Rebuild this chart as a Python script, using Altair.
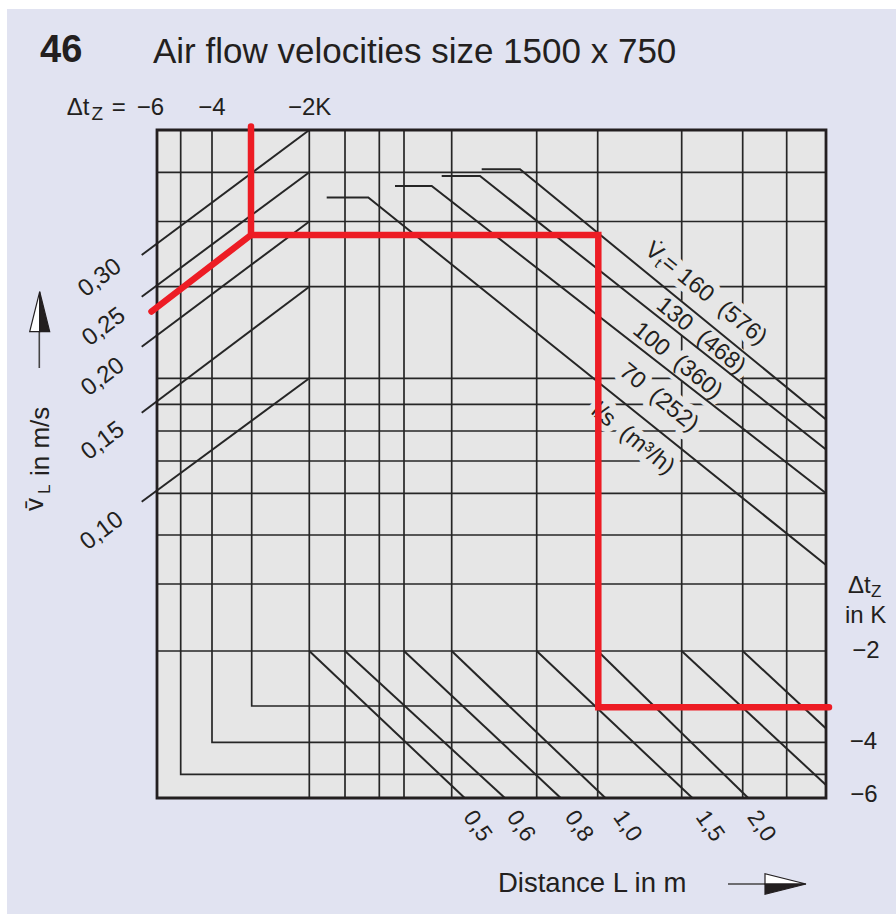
import altair as alt
import pandas as pd

# Nomogram field in chart units (1 unit = 1 px of the plotting field)
W, H = 669, 668

INK = "#231f20"
GRID = "#262626"
PAPER = "#e1e3f1"
FIELD = "#e6e6e6"
RED = "#ed1c24"
FONT = "Liberation Sans"

# ---------------------------------------------------------------- data
# Distance L grid (vertical lines over the full height)
dist_m = [0.5, 0.6, 0.7, 0.8, 1.0, 1.5, 2.0, 3.0, 4.0, 5.0]
dist_x = [152.3, 188.0, 222.3, 247.0, 294.7, 379.7, 440.7, 524.7, 585.7, 629.7]

# Velocity grid (horizontal lines over the full width)
vel_grid_y = [42.3, 91.5, 156.7, 248.3, 274.3, 301.0, 331.0, 363.3, 405.0, 454.0, 521.0]

# Δt_Z guides for -5, -4, -3 K: vertical leg from the top, horizontal leg to the right edge
dtz_k = [-5, -4, -3]
dtz_x = [23.7, 55.0, 94.7]
dtz_y = [644.3, 612.3, 576.0]

# Mean room air velocity lines (Δt_Z = -6 K side up to the -2 K line)
vel_labels = ["0,30", "0,25", "0,20", "0,15", "0,10"]
vel_start_x = -15.3
vel_start_y = [125.0, 166.7, 216.7, 282.7, 371.7]
vel_end_x = 152.3
vel_end_y = [0.0, 42.3, 91.5, 156.7, 248.3]
vel_label_x = [-57, -53, -54, -54, -55]
vel_label_y = [148, 197, 247, 311, 401]

# Supply air flow lines V̇t in l/s and (m³/h)
flow_ls = [70, 100, 130, 160]
flow_m3h = [252, 360, 468, 576]
flow_flat_x0 = [169.7, 238.0, 284.7, 324.7]
flow_flat_x1 = [211.3, 274.7, 323.0, 363.0]
flow_flat_y = [67.5, 56.0, 46.0, 39.3]
flow_end_y = [435.0, 363.3, 319.5, 289.4]
flow_label_x = [465.3, 479.0, 502.3, 503.0]
flow_label_y = [238.0, 197.0, 172.0, 126.6]
unit_label_xy = (437.3, 277.5)

# Distance lines in the lower part (start on the -2 K line)
dline_labels = ["0,5", "0,6", "0,8", "1,0", "1,5", "2,0", "", ""]
dline_x0 = [152.3, 188.0, 247.0, 294.7, 379.7, 440.7, 524.7, 585.7]
dline_y0 = 521.0
dline_x1 = [307.7, 347.9, 403.7, 448.4, 535.4, 591.2, 669.0, 669.0]
dline_y1 = [668.0, 668.0, 668.0, 668.0, 668.0, 668.0, 655.0, 598.5]
dline_label_x = [320.5, 363.8, 422.0, 470.5, 553.0, 604.5]
dline_label_y = 696.0

# Worked example (red route)
route_up = [(-5.5, 181.5), (94.0, 105.0), (94.0, -3.5)]
route_right = [(94.0, 105.0), (441.3, 105.0), (441.3, 577.3), (672.0, 577.3)]

# ---------------------------------------------------------------- helpers
X = alt.X("x:Q", scale=alt.Scale(domain=[0, W], nice=False, zero=False), axis=None)
Y = alt.Y("y:Q", scale=alt.Scale(domain=[0, H], nice=False, zero=False, reverse=True), axis=None)


def paths_df(paths, prefix):
    rows = []
    for i, pts in enumerate(paths):
        for k, (x, y) in enumerate(pts):
            rows.append({"seg": f"{prefix}{i}", "k": k, "x": x, "y": y})
    return pd.DataFrame(rows)


def line_layer(paths, prefix, width, color, cap="butt"):
    return alt.Chart(paths_df(paths, prefix)).mark_line(
        strokeWidth=width, color=color, strokeCap=cap, strokeJoin="miter"
    ).encode(x=X, y=Y, detail="seg:N", order=alt.Order("k:Q"))


def text_layer(xs, ys, labels, size, align="left", baseline="alphabetic", angle=0,
               weight="normal", dx=0, dy=0, halo=False):
    df = pd.DataFrame({"x": xs, "y": ys, "t": labels})
    props = dict(font=FONT, fontSize=size, align=align, baseline=baseline,
                 angle=angle, fontWeight=weight, dx=dx, dy=dy)
    if halo:
        props.update(fill=FIELD, stroke=FIELD, strokeWidth=13, strokeJoin="round")
    else:
        props.update(fill=INK)
    return alt.Chart(df).mark_text(**props).encode(x=X, y=Y, text="t:N")


def rect_layer(x0, x1, y0, y1, **props):
    df = pd.DataFrame({"x": [x0], "x2": [x1], "y": [y0], "y2": [y1]})
    return alt.Chart(df).mark_rect(**props).encode(x=X, x2=alt.X2("x2"), y=Y, y2=alt.Y2("y2"))


# ---------------------------------------------------------------- layers
paper = rect_layer(-150, 739, -121, 784, fill=PAPER)
field = rect_layer(0, W, 0, H, fill=FIELD)

grid_paths = [[(x, 0), (x, H)] for x in dist_x]
grid_paths += [[(0, y), (W, y)] for y in vel_grid_y]
grid_paths += [[(x, 0), (x, y), (W, y)] for x, y in zip(dtz_x, dtz_y)]
grid = line_layer(grid_paths, "g", 1.7, GRID)

vel_paths = [[(vel_start_x, a), (vel_end_x, b)] for a, b in zip(vel_start_y, vel_end_y)]
flow_paths = [[(a, y), (b, y), (W, e)]
              for a, b, y, e in zip(flow_flat_x0, flow_flat_x1, flow_flat_y, flow_end_y)]
dline_paths = [[(a, dline_y0), (b, c)] for a, b, c in zip(dline_x0, dline_x1, dline_y1)]
diagonals = alt.layer(
    line_layer(vel_paths, "v", 2.0, GRID),
    line_layer(flow_paths, "f", 2.0, GRID),
    line_layer(dline_paths, "d", 2.0, GRID),
)

frame = rect_layer(0, W, 0, H, fillOpacity=0, stroke=INK, strokeWidth=2.8)

# flow labels along the descending lines
flow_text = [f"{a}\u00a0\u00a0({b})" for a, b in zip(flow_ls, flow_m3h)]
FA = 39


def flow_labels(halo):
    return alt.layer(
        text_layer(flow_label_x[:3], flow_label_y[:3], flow_text[:3], 23.5,
                   baseline="middle", angle=FA, halo=halo),
        text_layer([flow_label_x[3]], [flow_label_y[3]], ["V\u0307"], 23.5,
                   align="right", baseline="middle", angle=FA, halo=halo),
        text_layer([flow_label_x[3]], [flow_label_y[3]], ["t"], 15,
                   baseline="middle", angle=FA, dx=0.5, dy=6, halo=halo),
        text_layer([flow_label_x[3]], [flow_label_y[3]],
                   [f"=\u00a0{flow_ls[3]}\u00a0\u00a0({flow_m3h[3]})"], 23.5,
                   baseline="middle", angle=FA, dx=6, halo=halo),
        text_layer([unit_label_xy[0]], [unit_label_xy[1]], ["l/s\u00a0\u00a0(m³/h)"], 23.5,
                   baseline="middle", angle=FA, halo=halo),
    )


texts = alt.layer(
    # heading
    text_layer([-117], [-68], ["46"], 38, weight="bold"),
    text_layer([-4], [-67.5], ["Air flow velocities size 1500 x 750"], 35),
    # Δt_Z scale along the top
    text_layer([-90.3], [-15], ["Δt"], 24),
    text_layer([-65.5], [-10.5], ["Z"], 19),
    text_layer([-45.3], [-15], ["="], 24),
    text_layer([-20.3], [-15], ["\u22126"], 24),
    text_layer([55], [-15], ["\u22124"], 24, align="center"),
    text_layer([131], [-15], ["\u22122K"], 24),
    # Δt_Z scale on the right
    text_layer([691], [463], ["Δt"], 24),
    text_layer([714], [466.5], ["Z"], 17),
    text_layer([688], [493], ["in K"], 24),
    text_layer([709, 706.5, 707], [521, 612.3, 665], ["\u22122", "\u22124", "\u22126"], 24,
               align="center", baseline="middle"),
    # velocity labels
    text_layer(vel_label_x, vel_label_y, vel_labels, 24, align="center",
               baseline="middle", angle=323),
    # vertical axis title
    text_layer([-114], [381], ["v\u0304"], 26, angle=270),
    text_layer([-107], [364], ["L"], 17, angle=270),
    text_layer([-108.5], [346], ["in m/s"], 26, angle=270),
    # distance labels
    text_layer(dline_label_x, [dline_label_y] * len(dline_label_x), dline_labels[:6], 23,
               align="center", baseline="middle", angle=55),
    text_layer([341], [762], ["Distance L in m"], 27.5),
    flow_labels(False),
)

# arrows next to the axis titles
shafts = line_layer([[(-117.7, 238), (-117.7, 200)], [(571, 754), (609, 754)]], "s", 1.6, "#444444")
HEAD_V_L = "M0,-1L-0.5,1L0,1Z"
HEAD_V_R = "M0,-1L0.5,1L0,1Z"
HEAD_H_T = "M1,0L-1,-0.5L-1,0Z"
HEAD_H_B = "M1,0L-1,0.5L-1,0Z"


def head(x, y, shape, fill, size):
    df = pd.DataFrame({"x": [x], "y": [y]})
    return alt.Chart(df).mark_point(shape=shape, size=size, filled=True, fill=fill,
                                    stroke=INK, strokeWidth=1.2, opacity=1).encode(x=X, y=Y)


arrows = alt.layer(
    shafts,
    head(-117.3, 181.7, HEAD_V_L, "white", 1600),
    head(-117.3, 181.7, HEAD_V_R, INK, 1600),
    head(628.5, 754, HEAD_H_T, "white", 1681),
    head(628.5, 754, HEAD_H_B, INK, 1681),
)

route = line_layer([route_up, route_right], "r", 6.5, RED, cap="round")

chart = alt.layer(
    paper, field, grid, flow_labels(True), diagonals, frame, texts, arrows, route
).properties(
    width=W, height=H,
    padding={"left": 157, "top": 130, "right": 70, "bottom": 116},
    autosize=alt.AutoSizeParams(type="none"),
    background="white",
).configure_view(strokeWidth=0)

chart.save("out.html", embed_options={"renderer": "svg", "actions": False})
